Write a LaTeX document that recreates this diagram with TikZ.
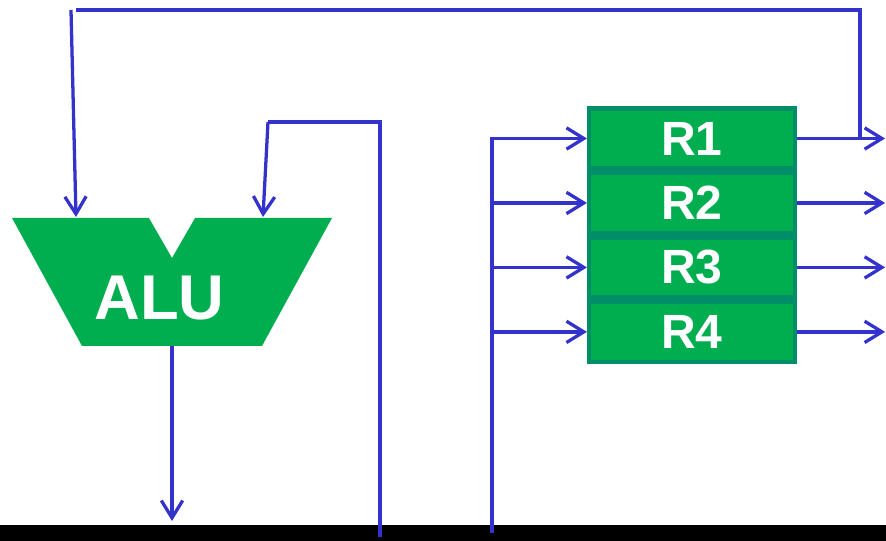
\documentclass[tikz,border=0pt]{standalone}
\usepackage{fontspec}
\setmainfont{Liberation Sans}
\usetikzlibrary{arrows.meta,positioning}
\definecolor{regGreen}{RGB}{0,174,80}
\definecolor{regEdge}{RGB}{0,142,104}
\definecolor{wireBlue}{RGB}{51,51,204}

\begin{document}
\begin{tikzpicture}[
  x=0.03cm,y=-0.03cm,
  >={Straight Barb[length=0.52cm,width=0.64cm]},
  wire/.style={line width=2.8pt,wireBlue},
  busline/.style={line width=3.6pt,wireBlue},
  register/.style={draw=regEdge,fill=regGreen,line width=3.8pt,
    minimum width=6.17cm,minimum height=1.80cm,inner sep=0pt,
    text=white,font=\bfseries\fontsize{41}{41}\selectfont},
  every node/.style={font=\small}
]
  \useasboundingbox (0,0) rectangle (886,541);

  \node[fill=black,minimum width=26.58cm,minimum height=0.48cm,inner sep=0pt] (bus) at (443,533) {};

  \fill[regGreen] (12,218) -- (149,218) -- (172,258) -- (195,218) -- (332,218)
    -- (262,346) -- (82,346) -- cycle;
  \node[text=white,font=\bfseries\fontsize{54}{54}\selectfont] (alu) at (159.5,298) {ALU};

  \coordinate (aluA) at (76,217);
  \coordinate (aluB) at (263,217);
  \coordinate (aluOut) at (172,346);
  \coordinate (aluDest) at (172,521);
  \coordinate (fbStart) at (71,10);
  \coordinate (fbCorner) at (76,10);
  \coordinate (fbTurn) at (860,10);
  \coordinate (inStart) at (268,122);
  \coordinate (inTurn) at (380,122);
  \coordinate (inBus) at (380,537);
  \coordinate (regBusTop) at (492,137);
  \coordinate (regBus) at (492,533);

  \node[register] (R1) at (692,138.5) {R1};
  \node[register,below=0pt of R1] (R2) {R2};
  \node[register,below=0pt of R2] (R3) {R3};
  \node[register,below=0pt of R3] (R4) {R4};

  \draw[wire,->] (aluOut) -- (aluDest);
  \draw[wire,->] (fbStart) -- (aluA);
  \draw[wire,->] (inStart) -- (aluB);
  \draw[busline] (inStart) -- (inTurn) -- (inBus);
  \draw[busline] (regBusTop) -- (regBus);
  \draw[busline] (fbTurn |- R1.east) -- (fbTurn) -- (fbCorner);

  \foreach \r in {1,...,4} {
    \draw[wire,->] (regBus |- R\r.west) -- (R\r.west);
    \draw[wire,->] (R\r.east) -- ++(88,0);
  }
\end{tikzpicture}
\end{document}
